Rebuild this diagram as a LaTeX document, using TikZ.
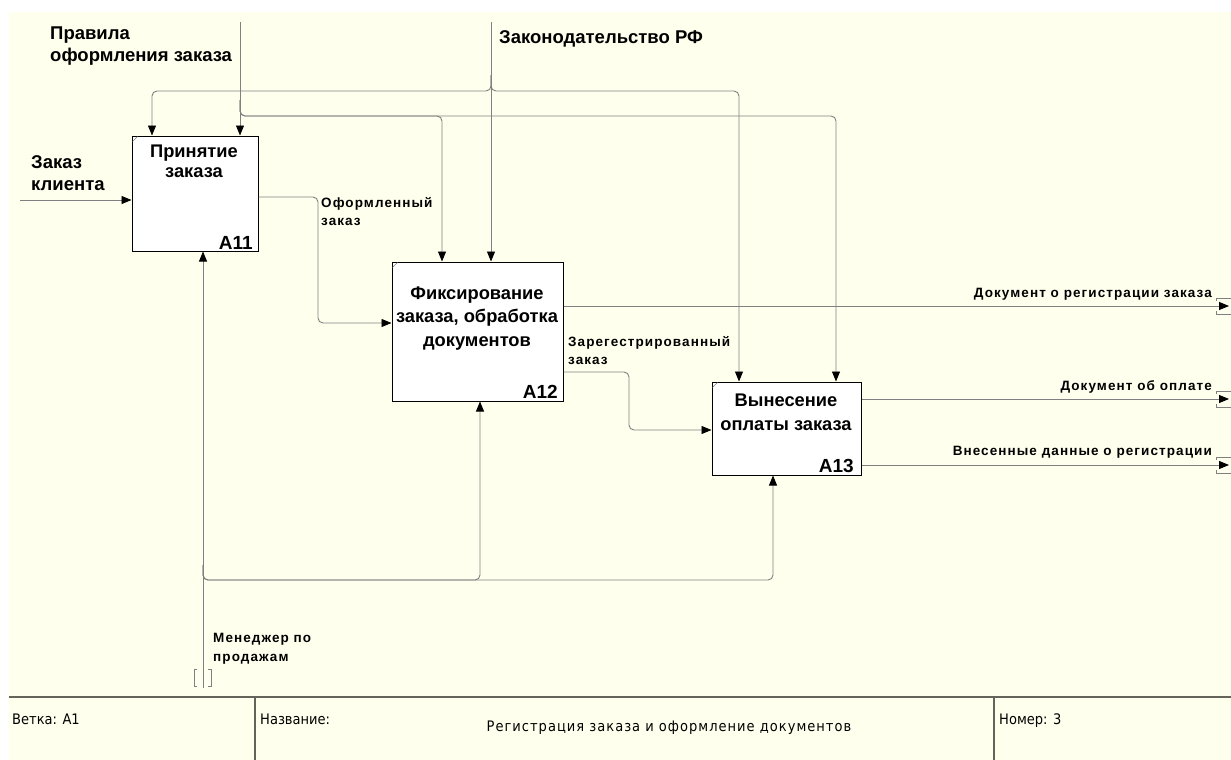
\documentclass[tikz,border=0pt]{standalone}
\usepackage{fontspec}
\usetikzlibrary{arrows.meta,calc}
\newfontfamily\labfont{Liberation Sans}
\newfontfamily\spfont[LetterSpace=8]{Liberation Sans}
\newfontfamily\tabfont{DejaVu Sans Condensed}
\newfontfamily\tabspfont[LetterSpace=7]{DejaVu Sans Condensed}
\definecolor{bgyellow}{RGB}{255,255,238}
\definecolor{linegray}{RGB}{128,128,128}
\definecolor{tabline}{RGB}{100,100,90}
\tikzset{
  x=1pt,y=-1pt,
  funcbox/.style={draw=black, line width=1pt, fill=white, inner sep=0pt},
  flow/.style={draw=linegray, line width=0.9pt, rounded corners=5pt, -{Triangle[length=10pt,width=8pt,black]}},
  biglab/.style={font=\labfont\bfseries\fontsize{18.5}{22}\selectfont, inner sep=0pt, align=left},
  boxlab/.style={font=\labfont\bfseries\fontsize{18.3}{23.5}\selectfont, inner sep=0pt, align=center},
  smalllab/.style={font=\spfont\bfseries\fontsize{13.5}{18}\selectfont, inner sep=0pt, align=left},
  numlab/.style={font=\labfont\bfseries\fontsize{19}{20}\selectfont, inner sep=0pt, anchor=base east},
  tablab/.style={font=\tabfont\fontsize{14.5}{16}\selectfont, inner sep=0pt, anchor=base west},
  tunnel/.style={draw=linegray, line width=0.8pt},
  cornermark/.style={draw=linegray, line width=0.6pt}
}
\begin{document}
\begin{tikzpicture}
\useasboundingbox (0,0) rectangle (1231,760);
\fill[white] (0,0) rectangle (1231,760);
\fill[bgyellow] (9,12) rectangle (1231,760);

% boxes
\node[funcbox, minimum width=126pt, minimum height=115pt] (A11) at (195,193.5) {};
\node[funcbox, minimum width=171pt, minimum height=139pt] (A12) at (477.5,331.5) {};
\node[funcbox, minimum width=149pt, minimum height=93pt] (A13) at (786.5,428.5) {};

% corner marks
\draw[cornermark] ($(A11.north west)+(1,6)$) -- ($(A11.north west)+(6,1)$);
\draw[cornermark] ($(A12.north west)+(1,6)$) -- ($(A12.north west)+(6,1)$);
\draw[cornermark] ($(A13.north west)+(1,6)$) -- ($(A13.north west)+(6,1)$);

% box texts (anchor = baseline of last line)
\node[boxlab, anchor=base, font=\labfont\bfseries\fontsize{18.3}{20.5}\selectfont] (t11) at (194,177.5) {Принятие\\заказа};
\node[boxlab, anchor=base] (t12) at (477,346) {Фиксирование\\заказа, обработка\\документов};
\node[boxlab, anchor=base, font=\labfont\bfseries\fontsize{18.3}{24.5}\selectfont] (t13) at (786,430.5) {Вынесение\\оплаты заказа};
\node[numlab] (n11) at (253,249) {A11};
\node[numlab] (n12) at (558,398) {A12};
\node[numlab] (n13) at (854,472) {A13};

% free ends
\coordinate (in1) at (20,200);
\coordinate (c1) at (240,22);
\coordinate (c2) at (491,22);
\coordinate (m1) at (203,688);
\coordinate (o1) at (1229,306);
\coordinate (o2) at (1229,399);
\coordinate (o3) at (1229,465);

% input
\draw[flow] (in1) -- (A11.west |- in1);
% controls: Правила
\draw[flow] (c1) -- (c1 |- A11.north);
\draw[flow] (240,100) -- (240,116) -- (442,116) -- (442,0 |- A12.north);
\draw[flow] (240,100) -- (240,116) -- (836,116) -- (836,0 |- A13.north);
% controls: Законодательство
\draw[flow] (c2) -- (c2 |- A12.north);
\draw[flow] (491,75) -- (491,91) -- (152,91) -- (152,0 |- A11.north);
\draw[flow] (491,75) -- (491,91) -- (739,91) -- (739,0 |- A13.north);
% A11 -> A12
\draw[flow] (A11.east |- 0,197) -- (318,197) -- (318,323) -- (A12.west |- 0,323);
% A12 -> A13
\draw[flow] (A12.east |- 0,372) -- (629,372) -- (629,430) -- (A13.west |- 0,430);
% outputs
\draw[flow] (A12.east |- o1) -- (o1);
\draw[flow] (A13.east |- o2) -- (o2);
\draw[flow] (A13.east |- o3) -- (o3);
% mechanism
\draw[flow] (m1) -- (m1 |- A11.south);
\draw[flow] (203,565) -- (203,580) -- (480,580) -- (480,0 |- A12.south);
\draw[flow] (203,565) -- (203,580) -- (773,580) -- (773,0 |- A13.south);

% tunnels on outputs
\foreach \yy in {306,399,465}{
  \draw[tunnel] (1216,\yy-5) -- (1216,\yy-8) -- (1231,\yy-8);
  \draw[tunnel] (1216,\yy+5) -- (1216,\yy+8) -- (1231,\yy+8);
}
% tunnel on mechanism
\draw[tunnel] (197,669) -- (194,669) -- (194,686) -- (197,686);
\draw[tunnel] (208,669) -- (211,669) -- (211,686) -- (208,686);

% arrow labels (anchor = baseline of last line)
\node[biglab, anchor=base west] (lpr) at (50,62) {Правила\\оформления заказа};
\node[biglab, anchor=base west] (lzak) at (499,44) {Законодательство РФ};
\node[biglab, anchor=base west] (lin) at (31,190) {Заказ\\клиента};
\node[smalllab, anchor=base west] (lof) at (321,225) {Оформленный\\заказ};
\node[smalllab, anchor=base west] (lreg) at (568,364) {Зарегестрированный\\заказ};
\node[smalllab, anchor=base east] (lo1) at (1212,297) {Документ о регистрации заказа};
\node[smalllab, anchor=base east] (lo2) at (1212,390) {Документ об оплате};
\node[smalllab, anchor=base east] (lo3) at (1212,455) {Внесенные данные о регистрации};
\node[smalllab, anchor=base west, font=\spfont\bfseries\fontsize{13.5}{19}\selectfont] (lman) at (213,661) {Менеджер по\\продажам};

% frame table
\draw[tabline, line width=1.5pt] (9,697) -- (1231,697);
\draw[tabline, line width=1.5pt] (255,697) -- (255,760);
\draw[tabline, line width=1.5pt] (994,697) -- (994,760);
\node[tablab] (tb1) at (12,724) {Ветка: A1};
\node[tablab] (tb2) at (260,724) {Название:};
\node[tablab, anchor=base, font=\tabspfont\fontsize{14.5}{16}\selectfont] (tb3) at (669,731) {Регистрация заказа и оформление документов};
\node[tablab] (tb4) at (999,724) {Номер: 3};
\end{tikzpicture}
\end{document}
